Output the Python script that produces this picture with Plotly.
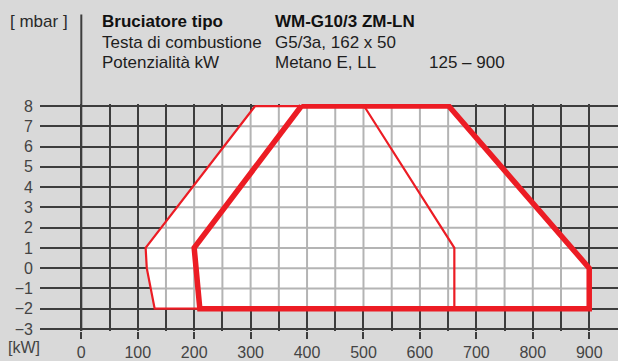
import plotly.graph_objects as go

# Working field of the burner: output [kW] vs. combustion-chamber pressure [mbar]
# Thin outline: lower field; thick outline: upper field
thin_kw = [308, 501, 661, 661, 130, 116, 114, 308]
thin_mbar = [8, 8, 1, -2, -2, 0, 1, 8]
thick_kw = [390, 651, 900, 900, 210, 203, 200, 390]
thick_mbar = [8, 8, 0, -2, -2, 0, 1, 8]

x_major = [0, 100, 200, 300, 400, 500, 600, 700, 800, 900]
x_labels = [str(v) for v in x_major]
x_minor = [50, 150, 250, 350, 450, 550, 650, 750, 850, 950]
y_ticks = list(range(-3, 9))

RED = "#ec1c24"
BG = "#d9d9d9"
GRID_DARK = "#3d3d3d"
GRID_LIGHT = "#b4b4b4"
FONT = "Liberation Sans, Arial, sans-serif"

W, H = 618, 361
M_L, M_R, M_T, M_B = 40, 0, 104, 26
X_RANGE = [-73.2, 951]
Y_RANGE = [-3.1, 8.1]


def convex_hull(pts):
    pts = sorted(set(pts))

    def cross(o, a, b):
        return (a[0] - o[0]) * (b[1] - o[1]) - (a[1] - o[1]) * (b[0] - o[0])

    lower, upper = [], []
    for p in pts:
        while len(lower) >= 2 and cross(lower[-2], lower[-1], p) <= 0:
            lower.pop()
        lower.append(p)
    for p in reversed(pts):
        while len(upper) >= 2 and cross(upper[-2], upper[-1], p) <= 0:
            upper.pop()
        upper.append(p)
    return lower[:-1] + upper[:-1]


def span(poly, value, axis):
    """Extent of a convex polygon along the line coord[axis] == value."""
    other = 1 - axis
    hits = []
    n = len(poly)
    for i in range(n):
        p, q = poly[i], poly[(i + 1) % n]
        a, b = p[axis], q[axis]
        if a == b:
            continue
        if min(a, b) <= value <= max(a, b):
            t = (value - a) / (b - a)
            hits.append(p[other] + t * (q[other] - p[other]))
    if len(hits) < 2:
        return None
    return min(hits), max(hits)


# Combined working area (white) and the grid lines that fall inside it
area = convex_hull(list(zip(thin_kw, thin_mbar)) + list(zip(thick_kw, thick_mbar)))
area_x = [p[0] for p in area] + [area[0][0]]
area_y = [p[1] for p in area] + [area[0][1]]

gx, gy = [], []
x_min = min(p[0] for p in area)
x_max = max(p[0] for p in area)
y_min = min(p[1] for p in area)
y_max = max(p[1] for p in area)
for xv in sorted(x_major + x_minor):
    if x_min < xv < x_max:
        s = span(area, xv, 0)
        if s:
            gx += [xv, xv, None]
            gy += [s[0], s[1], None]
for yv in y_ticks:
    if y_min < yv < y_max:
        s = span(area, yv, 1)
        if s:
            gx += [s[0], s[1], None]
            gy += [yv, yv, None]

fig = go.Figure()
fig.add_trace(go.Scatter(x=area_x, y=area_y, mode="lines", fill="toself",
                         fillcolor="white", line=dict(width=0), hoverinfo="skip"))
fig.add_trace(go.Scatter(x=gx, y=gy, mode="lines",
                         line=dict(color=GRID_LIGHT, width=2), hoverinfo="skip"))
fig.add_trace(go.Scatter(x=thin_kw, y=thin_mbar, mode="lines",
                         line=dict(color=RED, width=2.2), hoverinfo="skip"))
fig.add_trace(go.Scatter(x=thick_kw, y=thick_mbar, mode="lines",
                         line=dict(color=RED, width=5.5, shape="linear"), hoverinfo="skip"))

plot_h = H - M_T - M_B
plot_w = W - M_L - M_R


def py(pix):
    return (H - M_B - pix) / plot_h


def px(pix):
    return (pix - M_L) / plot_w


# Vertical divider continuing the 0 kW line up through the header
fig.add_shape(type="line", xref="x", yref="paper", x0=0, x1=0,
              y0=0, y1=py(13), line=dict(color=GRID_DARK, width=2))

header = [
    ("[ mbar ]", 8, 20, False, "#2a2a2a"),
    ("Bruciatore tipo", 100, 20, True, "#111111"),
    ("WM-G10/3 ZM-LN", 273, 20, True, "#111111"),
    ("Testa di combustione", 100, 41, False, "#1e1e1e"),
    ("G5/3a, 162 x 50", 273, 41, False, "#1e1e1e"),
    ("Potenzialità kW", 100, 62, False, "#1e1e1e"),
    ("Metano E, LL", 273, 62, False, "#1e1e1e"),
    ("125 – 900", 427, 62, False, "#1e1e1e"),
]
for text, xl, yc, bold, col in header:
    fig.add_annotation(text=f"<b>{text}</b>" if bold else text,
                       xref="paper", yref="paper", x=px(xl), y=py(yc),
                       xanchor="left", yanchor="middle", showarrow=False,
                       font=dict(family=FONT, size=17, color=col))

fig.add_annotation(text="[kW]", xref="paper", yref="paper", x=px(6), y=py(352),
                   xanchor="left", yanchor="middle", showarrow=False,
                   font=dict(family=FONT, size=16, color="#444444"))

fig.update_xaxes(range=X_RANGE, tickmode="array", tickvals=x_major, ticktext=x_labels,
                 showgrid=True, gridcolor=GRID_DARK, gridwidth=2,
                 ticks="outside", ticklen=7, tickwidth=2, tickcolor=GRID_DARK,
                 minor=dict(tickmode="array", tickvals=x_minor, showgrid=True,
                            gridcolor=GRID_DARK, gridwidth=2, ticks=""),
                 zeroline=False, showline=False,
                 tickfont=dict(family=FONT, size=16, color="#444444"))
fig.update_yaxes(range=Y_RANGE, tickmode="array", tickvals=y_ticks,
                 showgrid=True, gridcolor=GRID_DARK, gridwidth=2,
                 ticks="", zeroline=False, showline=False, ticklabelstandoff=6,
                 tickfont=dict(family=FONT, size=16, color="#444444"))

fig.update_layout(width=W, height=H, margin=dict(l=M_L, r=M_R, t=M_T, b=M_B),
                  paper_bgcolor=BG, plot_bgcolor=BG, showlegend=False)

fig.write_html("out.html", config={"displayModeBar": False})
